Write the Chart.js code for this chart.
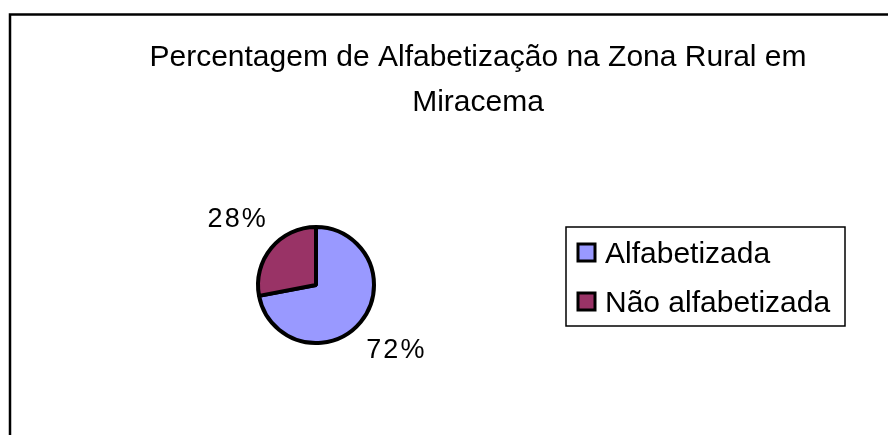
<!DOCTYPE html>
<html>
<head>
<meta charset="utf-8">
<script src="https://cdn.jsdelivr.net/npm/chart.js@4"></script>
<style>
  html, body { margin: 0; padding: 0; background: #fff; }
  canvas { display: block; }
</style>
</head>
<body>
<canvas id="myChart" width="888" height="435"></canvas>
<script>
const titleLines = ["Percentagem de Alfabetização na Zona Rural em", "Miracema"];
const categories = ["Alfabetizada", "Não alfabetizada"];
const percentValues = [72, 28];
const sliceColors = ["#9999ff", "#993366"];

const fontName = "'Liberation Sans', Arial, Helvetica, sans-serif";

// outer frame (only left/top visible) and the two line title
const frameTitle = {
  id: "frameTitle",
  beforeDraw(chart) {
    const c = chart.ctx;
    c.save();
    c.fillStyle = "#fff";
    c.fillRect(0, 0, chart.width, chart.height);
    c.strokeStyle = "#000";
    c.lineWidth = 2.5;
    c.strokeRect(10, 14.5, chart.width + 50, chart.height + 50);
    c.fillStyle = "#000";
    c.font = "30px " + fontName;
    c.textAlign = "center";
    c.textBaseline = "alphabetic";
    titleLines.forEach((t, i) => c.fillText(t, 478, 66 + i * 45));
    c.restore();
  }
};

// percentage labels outside each slice
const sliceLabels = {
  id: "sliceLabels",
  afterDatasetsDraw(chart) {
    const c = chart.ctx;
    const meta = chart.getDatasetMeta(0);
    c.save();
    c.fillStyle = "#000";
    c.font = "27px " + fontName;
    c.letterSpacing = "2px";
    c.textAlign = "center";
    c.textBaseline = "middle";
    meta.data.forEach((arc, i) => {
      const p = arc.getProps(["x", "y", "startAngle", "endAngle", "outerRadius"], true);
      const mid = (p.startAngle + p.endAngle) / 2;
      const r = p.outerRadius + 45;
      c.fillText(percentValues[i] + "%", p.x + Math.cos(mid) * r + 1, p.y + Math.sin(mid) * r);
    });
    c.restore();
  }
};

// boxed legend on the right
const boxLegend = {
  id: "boxLegend",
  afterDraw(chart) {
    const c = chart.ctx;
    const ds = chart.data.datasets[0];
    c.save();
    c.strokeStyle = "#000";
    c.lineWidth = 1.5;
    c.strokeRect(566, 227, 279, 99);
    c.font = "30px " + fontName;
    c.textAlign = "left";
    c.textBaseline = "alphabetic";
    chart.data.labels.forEach((lab, i) => {
      const y = 244 + i * 49;
      c.fillStyle = ds.backgroundColor[i];
      c.fillRect(578, y, 17, 17);
      c.lineWidth = 3;
      c.strokeRect(578, y, 17, 17);
      c.fillStyle = "#000";
      c.fillText(lab, 605, y + 19);
    });
    c.restore();
  }
};

const ctx = document.getElementById("myChart").getContext("2d");
const pieChart = new Chart(ctx, {
  type: "pie",
  data: {
    labels: categories,
    datasets: [
      {
        data: percentValues,
        backgroundColor: sliceColors,
        borderColor: "#000",
        borderWidth: 4,
      },
    ],
  },
  options: {
    responsive: false,
    animation: false,
    radius: 58,
    layout: {
      padding: { left: 0, right: 256, top: 135, bottom: 0 },
    },
    plugins: {
      legend: { display: false },
      title: { display: false },
      tooltip: { enabled: false },
    },
  },
  plugins: [frameTitle, sliceLabels, boxLegend],
});
</script>
</body>
</html>
